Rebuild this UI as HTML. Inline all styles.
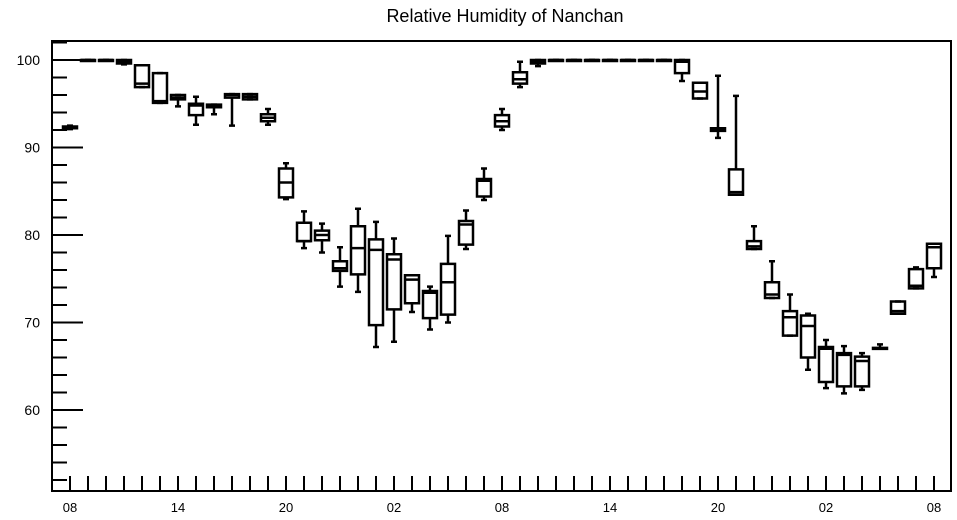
<!DOCTYPE html>
<html><head><meta charset="utf-8">
<style>
html,body{margin:0;padding:0;background:#fff;}
svg{display:block;font-family:"Liberation Sans",Arial,sans-serif;}
</style></head>
<body>
<svg id="chart" width="957" height="520" viewBox="0 0 957 520" xmlns="http://www.w3.org/2000/svg">
<text x="505" y="22" text-anchor="middle" font-size="18" fill="#000">Relative Humidity of Nanchan</text>
<rect x="52" y="41" width="899" height="450" fill="none" stroke="#000" stroke-width="2"/>
<g id="axes"></g>
<g id="boxes"></g>
</svg>
<script>
const hourLabels = ["08","14","20","02","08","14","20","02","08"];
const yTicks = [60,70,80,90,100];
// per hourly box: [low whisker, q1, median, q3, high whisker]
const lows =   [92.1,100,100,99.5,96.9,95.1,94.7,92.6,93.8,92.5,95.5,92.6,84.1,78.5,78.0,74.1,73.5,67.2,67.8,71.2,69.2,70.0,78.4,84.0,92.0,96.9,99.3,100,100,100,100,100,100,100,97.6,95.6,91.1,84.6,78.4,72.8,68.5,64.6,62.5,61.9,62.3,67.0,71.0,73.9,75.2];
const q1s =    [92.2,100,100,99.6,96.9,95.1,95.5,93.7,94.6,95.7,95.5,93.0,84.3,79.3,79.4,75.9,75.5,69.7,71.5,72.2,70.5,70.9,78.9,84.4,92.4,97.3,99.6,100,100,100,100,100,100,100,98.5,95.6,91.9,84.6,78.4,72.8,68.5,66.0,63.2,62.7,62.7,67.0,71.0,73.9,76.2];
const medians =[92.3,100,100,99.8,97.3,95.3,95.7,94.8,94.7,96.0,95.8,93.4,86.0,79.3,80.0,76.2,78.5,78.3,77.2,74.9,73.4,74.6,81.2,86.2,93.0,97.8,99.8,100,100,100,100,100,100,100,99.8,96.4,92.1,84.9,78.7,73.2,70.6,69.6,67.0,66.3,65.6,67.05,71.3,74.2,78.6];
const q3s =    [92.4,100,100,100,99.4,98.5,96.0,95.0,94.9,96.1,96.1,93.8,87.6,81.4,80.5,77.0,81.0,79.5,77.8,75.4,73.6,76.7,81.6,86.4,93.7,98.6,100,100,100,100,100,100,100,100,100,97.4,92.2,87.5,79.3,74.6,71.3,70.8,67.2,66.5,66.1,67.1,72.4,76.1,79.0];
const highs =  [92.5,100,100,100,99.4,98.5,96.0,95.8,94.9,96.1,96.1,94.4,88.2,82.7,81.3,78.6,83.0,81.5,79.6,75.4,74.1,79.9,82.8,87.6,94.4,99.8,100,100,100,100,100,100,100,100,100,97.4,98.2,95.9,81.0,77.0,73.2,71.0,68.0,67.3,66.5,67.5,72.4,76.3,79.0];

const NS="http://www.w3.org/2000/svg";
const X0=70, DX=18, Y100=60, PXU=8.75;
const xPos = i => X0 + DX*i;
const yPos = v => Y100 + (100 - v)*PXU;
function mk(tag, attrs, parent){const e=document.createElementNS(NS,tag);for(const k in attrs)e.setAttribute(k,attrs[k]);parent.appendChild(e);return e;}
const axes=document.getElementById('axes');
const boxes=document.getElementById('boxes');
// y ticks
for(let v=52; v<=102; v+=2){
  const major = v%10===0;
  const t=mk('line',{x1:52,x2:major?83:67,y1:yPos(v),y2:yPos(v),stroke:'#000','stroke-width':2},axes);
  
  
}
yTicks.forEach(v=>{
  const t=mk('text',{x:40,y:yPos(v)+5,'text-anchor':'end','font-size':14},axes);
  t.textContent=v;
  
  
});
// x ticks
for(let i=0;i<lows.length;i++){
  const t=mk('line',{x1:xPos(i),x2:xPos(i),y1:476,y2:491,stroke:'#000','stroke-width':2},axes);
  
  
}
hourLabels.forEach((l,k)=>{
  const t=mk('text',{x:xPos(k*6),y:512,'text-anchor':'middle','font-size':13},axes);
  t.textContent=l;
  
  
});
// boxes
const HW=7;
for(let i=0;i<lows.length;i++){
  const g=mk('g',{stroke:'#000','stroke-width':2.5,fill:'none'},boxes);
  
  
  const x=xPos(i);
  mk('line',{x1:x,x2:x,y1:yPos(highs[i]),y2:yPos(q3s[i])},g);
  mk('line',{x1:x,x2:x,y1:yPos(q1s[i]),y2:yPos(lows[i])},g);
  mk('line',{x1:x-3,x2:x+3,y1:yPos(highs[i]),y2:yPos(highs[i])},g);
  mk('line',{x1:x-3,x2:x+3,y1:yPos(lows[i]),y2:yPos(lows[i])},g);
  const top=yPos(q3s[i]), bot=yPos(q1s[i]);
  mk('rect',{x:x-HW,y:top,width:2*HW,height:Math.max(bot-top,1)},g);
  mk('line',{x1:x-HW,x2:x+HW,y1:yPos(medians[i]),y2:yPos(medians[i])},g);
}
</script>
</body></html>
